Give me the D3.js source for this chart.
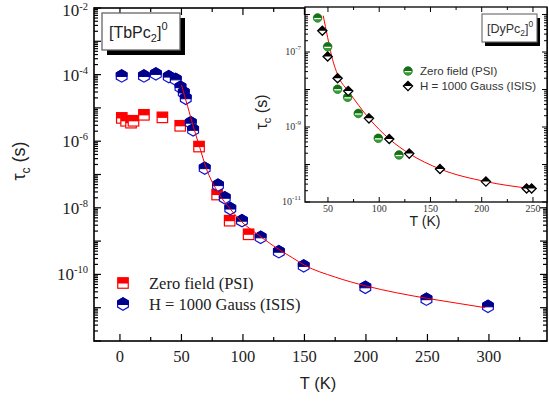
<!DOCTYPE html>
<html><head><meta charset="utf-8">
<script src="https://cdn.jsdelivr.net/npm/d3@7"></script>
<style>body{margin:0;background:#fff}svg{display:block}</style>
</head><body>
<svg id="c" width="549" height="401"></svg>
<script>
// ---------- Main plot data: [TbPc2]0 ----------
const tbPsiT   = [1.5, 5, 9, 11, 19.5, 34.5, 49, 64.3, 79, 89.2, 104.6];
const tbPsiTau = [5.0e-6, 4.1e-6, 3.6e-6, 4.1e-6, 6.2e-6, 5.2e-6, 2.9e-6, 6.9e-7, 2.5e-8, 4.1e-9, 1.6e-9];
const tbIsisT   = [1.4, 19.5, 29.2, 39.7, 45.4, 49.2, 51.9, 53.5, 57.6, 59.5, 68.9, 79.7, 85.2, 89.7, 99.2, 114.4, 129.2, 149.4, 199.5, 249.2, 299.2];
const tbIsisTau = [9.1e-5, 9.1e-5, 1.05e-4, 8.7e-5, 7.2e-5, 4.2e-5, 2.9e-5, 1.95e-5, 3.6e-6, 2.2e-6, 1.55e-7, 4.8e-8, 2.0e-8, 9.5e-9, 4.1e-9, 1.3e-9, 4.8e-10, 1.8e-10, 4.1e-11, 1.8e-11, 1.1e-11];
const tbFitT   = [50, 55, 60, 65, 70, 80, 90, 100, 110, 125, 140, 150, 175, 200, 225, 250, 275, 297];
const tbFitTau = [4.9e-5, 1.12e-5, 2.5e-6, 6.3e-7, 1.6e-7, 2.8e-8, 8.9e-9, 3.5e-9, 1.8e-9, 7.1e-10, 3.2e-10, 1.9e-10, 8.3e-11, 4.5e-11, 2.8e-11, 1.9e-11, 1.35e-11, 1.0e-11];
const mainXTicks = [0, 50, 100, 150, 200, 250, 300];
const mainYLabelExps = [-2, -4, -6, -8, -10];

// ---------- Inset data: [DyPc2]0 ----------
const dyPsiT   = [39.9, 49.7, 59.4, 69.2, 79.6, 99.1, 119.3];
const dyPsiTau = [8.1e-7, 1.38e-7, 1.02e-8, 6.2e-9, 2.3e-9, 5.0e-10, 1.8e-10];
const dyIsisT   = [44.5, 49.7, 59.4, 69.8, 90, 109.8, 129.3, 159.3, 204.1, 243.8, 248.7];
const dyIsisTau = [3.7e-7, 7.6e-8, 2.0e-8, 9.1e-9, 1.7e-9, 4.8e-10, 1.95e-10, 7.6e-11, 3.5e-11, 2.3e-11, 2.3e-11];
const dyFitT   = [45.4, 49.7, 53.6, 61.0, 69.8, 90.0, 109.8, 129.3, 159.3, 204.1, 247];
const dyFitTau = [9.3e-7, 2.45e-7, 7.8e-8, 2.0e-8, 9.1e-9, 1.7e-9, 4.8e-10, 1.95e-10, 7.6e-11, 3.5e-11, 2.3e-11];
const insetXTicks = [50, 100, 150, 200, 250];
const insetYLabelExps = [-7, -9, -11];

const legendMain = ["Zero field (PSI)", "H = 1000 Gauss (ISIS)"];
const legendInset = ["Zero field (PSI)", "H = 1000 Gauss (ISIS)"];

const svg = d3.select("#c");
const SERIF = "'Liberation Serif','Times New Roman',serif";
const SANS = "'Liberation Sans',Arial,sans-serif";

// ---------- Main scales ----------
const M = {l: 94, r: 547, t: 8, b: 341};
const x = d3.scaleLinear().domain([-21.1, 347.2]).range([M.l, M.r]);
const y = d3.scaleLog().domain([1e-12, 1e-2]).range([M.b, M.t]);

const gMain = svg.append("g");

function logTicks(lo, hi) {
  const out = [];
  for (let e = lo; e < hi; e++) {
    for (let k = 1; k <= 9; k++) out.push({v: k * Math.pow(10, e), major: k === 1});
  }
  out.push({v: Math.pow(10, hi), major: true});
  return out;
}

// main ticks
const mTicksY = logTicks(-12, -2);
mTicksY.forEach(t => {
  const yy = y(t.v); const len = t.major ? 7 : 4;
  gMain.append("line").attr("x1", M.l).attr("x2", M.l + len).attr("y1", yy).attr("y2", yy).attr("stroke", "#000").attr("stroke-width", 1.2);
  gMain.append("line").attr("x1", M.r).attr("x2", M.r - len).attr("y1", yy).attr("y2", yy).attr("stroke", "#000").attr("stroke-width", 1.2);
});
d3.range(0, 350, 25).forEach(v => {
  const xx = x(v); const len = (v % 50 === 0) ? 7 : 4;
  gMain.append("line").attr("x1", xx).attr("x2", xx).attr("y1", M.b).attr("y2", M.b - len).attr("stroke", "#000").attr("stroke-width", 1.2);
  gMain.append("line").attr("x1", xx).attr("x2", xx).attr("y1", M.t).attr("y2", M.t + len).attr("stroke", "#000").attr("stroke-width", 1.2);
});
gMain.append("rect").attr("x", M.l).attr("y", M.t).attr("width", M.r - M.l).attr("height", M.b - M.t)
  .attr("fill", "none").attr("stroke", "#000").attr("stroke-width", 1.6);

// main tick labels
mainXTicks.forEach(v => {
  gMain.append("text").attr("x", x(v)).attr("y", 362).attr("text-anchor", "middle")
    .attr("font-family", SERIF).attr("font-size", 16.5).attr("fill", "#222").text(v);
});
mainYLabelExps.forEach(e => {
  const top = e === -2;
  const t = gMain.append("text").attr("x", 88).attr("y", y(Math.pow(10, e)) + (top ? 8 : 6)).attr("text-anchor", "end")
    .attr("font-family", SERIF).attr("font-size", 17).attr("fill", "#222");
  t.append("tspan").text("10");
  t.append("tspan").attr("dy", top ? -6 : -7).attr("font-size", 10.5).text(String(e));
});

// axis titles
gMain.append("text").attr("x", 318).attr("y", 389).attr("text-anchor", "middle")
  .attr("font-family", SANS).attr("font-size", 16.5).attr("fill", "#222").text("T (K)");
{
  const t = gMain.append("text").attr("transform", "translate(25,161) rotate(-90)").attr("text-anchor", "middle")
    .attr("font-family", SANS).attr("font-size", 18).attr("fill", "#222");
  t.append("tspan").text("τ");
  t.append("tspan").attr("dy", 5).attr("font-size", 12).text("c");
  t.append("tspan").attr("dy", -5).text(" (s)");
}

// markers
function hexagon(g, cx, cy, r) {
  const pts = d3.range(6).map(k => {
    const a = -Math.PI / 2 + k * Math.PI / 3;
    return [cx + r * Math.cos(a), cy + r * Math.sin(a)];
  });
  g.append("polygon").attr("points", pts.map(p => p.join(",")).join(" "))
    .attr("fill", "#fff").attr("stroke", "#1010d0").attr("stroke-width", 1.2);
  const w = r * Math.cos(Math.PI / 6);
  const top = [[cx, cy - r], [cx + w, cy - r / 2], [cx + w, cy + 0.5], [cx - w, cy + 0.5], [cx - w, cy - r / 2]];
  g.append("polygon").attr("points", top.map(p => p.join(",")).join(" "))
    .attr("fill", "#00008b").attr("stroke", "#00008b").attr("stroke-width", 1);
}
function halfSquare(g, cx, cy, s) {
  g.append("rect").attr("x", cx - s / 2).attr("y", cy - s / 2).attr("width", s).attr("height", s)
    .attr("fill", "#fff").attr("stroke", "#ff0000").attr("stroke-width", 1.2);
  g.append("rect").attr("x", cx - s / 2).attr("y", cy - s / 2).attr("width", s).attr("height", s * 0.55)
    .attr("fill", "#ff0000");
}
function halfCircle(g, cx, cy, r) {
  g.append("circle").attr("cx", cx).attr("cy", cy).attr("r", r).attr("fill", "#33a033").attr("stroke", "#1f7f1f").attr("stroke-width", 0.8);
  g.append("path").attr("d", `M${cx - r},${cy} A${r},${r} 0 0 1 ${cx + r},${cy} Z`).attr("fill", "#157015");
  g.append("line").attr("x1", cx - r + 1).attr("x2", cx + r - 1).attr("y1", cy + 0.6).attr("y2", cy + 0.6).attr("stroke", "#fff").attr("stroke-width", 1.2);
}
function halfDiamond(g, cx, cy, r) {
  g.append("polygon").attr("points", `${cx},${cy - r} ${cx + r},${cy} ${cx},${cy + r} ${cx - r},${cy}`)
    .attr("fill", "#fff").attr("stroke", "#000").attr("stroke-width", 1.3);
  g.append("polygon").attr("points", `${cx},${cy - r} ${cx + r},${cy} ${cx - r},${cy}`).attr("fill", "#000");
}

const gPts = gMain.append("g");
tbPsiT.forEach((T, i) => halfSquare(gPts, x(T), y(tbPsiTau[i]), 10.5));
tbIsisT.forEach((T, i) => hexagon(gPts, x(T), y(tbIsisTau[i]), 6.2));

const line = d3.line().x(d => x(d[0])).y(d => y(d[1])).curve(d3.curveMonotoneX);
gMain.append("path").datum(tbFitT.map((T, i) => [T, tbFitTau[i]])).attr("d", line)
  .attr("fill", "none").attr("stroke", "#ff0000").attr("stroke-width", 1);

// main legend
halfSquare(gMain, 123, 283, 10.5);
hexagon(gMain, 123, 304, 6.2);
gMain.append("text").attr("x", 149).attr("y", 289).attr("font-family", SERIF).attr("font-size", 16.5).attr("fill", "#222").text(legendMain[0]);
gMain.append("text").attr("x", 149).attr("y", 310).attr("font-family", SERIF).attr("font-size", 16.5).attr("fill", "#222").text(legendMain[1]);

// main label box
gMain.append("rect").attr("x", 107).attr("y", 18).attr("width", 78).attr("height", 37).attr("fill", "#000");
gMain.append("rect").attr("x", 102).attr("y", 13).attr("width", 78).attr("height", 37).attr("fill", "#fff").attr("stroke", "#666").attr("stroke-width", 1.3);
{
  const t = gMain.append("text").attr("x", 109).attr("y", 38).attr("font-family", SANS).attr("font-size", 16).attr("fill", "#222");
  t.append("tspan").text("[TbPc");
  t.append("tspan").attr("dy", 4).attr("font-size", 11).text("2");
  t.append("tspan").attr("dy", -4).text("]");
  t.append("tspan").attr("dy", -8).attr("font-size", 11).text("0");
}

// ---------- Inset ----------
const I = {l: 305, r: 547, t: 7, b: 202};
const xi = d3.scaleLinear().domain([27.6, 263.7]).range([I.l, I.r]);
const yi = d3.scaleLog().domain([1e-11, Math.pow(10, -5.8)]).range([I.b, I.t]);
const gI = svg.append("g");
gI.append("rect").attr("x", I.l).attr("y", I.t).attr("width", I.r - I.l).attr("height", I.b - I.t).attr("fill", "#fff");

logTicks(-11, -6).forEach(t => {
  const yy = yi(t.v); if (yy < I.t) return;
  const len = t.major ? 5 : 3;
  gI.append("line").attr("x1", I.l).attr("x2", I.l + len).attr("y1", yy).attr("y2", yy).attr("stroke", "#000").attr("stroke-width", 1);
  gI.append("line").attr("x1", I.r).attr("x2", I.r - len).attr("y1", yy).attr("y2", yy).attr("stroke", "#000").attr("stroke-width", 1);
});
[2e-6].forEach(v => {
  const yy = yi(v); if (yy < I.t) return;
  gI.append("line").attr("x1", I.l).attr("x2", I.l + 3).attr("y1", yy).attr("y2", yy).attr("stroke", "#000");
});
d3.range(50, 275, 25).forEach(v => {
  const xx = xi(v); const len = (v % 50 === 0) ? 5 : 3;
  gI.append("line").attr("x1", xx).attr("x2", xx).attr("y1", I.b).attr("y2", I.b - len).attr("stroke", "#000").attr("stroke-width", 1);
  gI.append("line").attr("x1", xx).attr("x2", xx).attr("y1", I.t).attr("y2", I.t + len).attr("stroke", "#000").attr("stroke-width", 1);
});
gI.append("rect").attr("x", I.l).attr("y", I.t).attr("width", I.r - I.l).attr("height", I.b - I.t)
  .attr("fill", "none").attr("stroke", "#000").attr("stroke-width", 1.3);

insetXTicks.forEach(v => {
  gI.append("text").attr("x", xi(v)).attr("y", 212).attr("text-anchor", "middle")
    .attr("font-family", SERIF).attr("font-size", 10).attr("fill", "#333").text(v);
});
insetYLabelExps.forEach(e => {
  const t = gI.append("text").attr("x", 301).attr("y", yi(Math.pow(10, e)) + 3).attr("text-anchor", "end")
    .attr("font-family", SERIF).attr("font-size", 10).attr("fill", "#333");
  t.append("tspan").text("10");
  t.append("tspan").attr("dy", -5).attr("font-size", 7).text(String(e));
});
gI.append("text").attr("x", 425).attr("y", 226).attr("text-anchor", "middle")
  .attr("font-family", SANS).attr("font-size", 14).attr("fill", "#222").text("T (K)");
{
  const t = gI.append("text").attr("transform", "translate(267,112) rotate(-90)").attr("text-anchor", "middle")
    .attr("font-family", SANS).attr("font-size", 16).attr("fill", "#222");
  t.append("tspan").text("τ");
  t.append("tspan").attr("dy", 4).attr("font-size", 11).text("c");
  t.append("tspan").attr("dy", -4).text(" (s)");
}

const lineI = d3.line().x(d => xi(d[0])).y(d => yi(d[1])).curve(d3.curveMonotoneX);
gI.append("path").datum(dyFitT.map((T, i) => [T, dyFitTau[i]])).attr("d", lineI)
  .attr("fill", "none").attr("stroke", "#ff0000").attr("stroke-width", 1);
dyPsiT.forEach((T, i) => halfCircle(gI, xi(T), yi(dyPsiTau[i]), 4.3));
dyIsisT.forEach((T, i) => halfDiamond(gI, xi(T), yi(dyIsisTau[i]), 4.6));

// inset legend
halfCircle(gI, 408, 71, 4.3);
halfDiamond(gI, 408, 86, 4.6);
gI.append("text").attr("x", 420).attr("y", 75).attr("font-family", SANS).attr("font-size", 11.5).attr("fill", "#333").text(legendInset[0]);
gI.append("text").attr("x", 420).attr("y", 90).attr("font-family", SANS).attr("font-size", 11.5).attr("fill", "#333").text(legendInset[1]);

// inset label box
gI.append("rect").attr("x", 485).attr("y", 18).attr("width", 55).attr("height", 28).attr("fill", "#000");
gI.append("rect").attr("x", 482).attr("y", 14).attr("width", 55).attr("height", 28).attr("fill", "#fff").attr("stroke", "#666").attr("stroke-width", 1.1);
{
  const t = gI.append("text").attr("x", 487).attr("y", 33).attr("font-family", SANS).attr("font-size", 12.5).attr("fill", "#333");
  t.append("tspan").text("[DyPc");
  t.append("tspan").attr("dy", 3).attr("font-size", 8.5).text("2");
  t.append("tspan").attr("dy", -3).text("]");
  t.append("tspan").attr("dy", -6).attr("font-size", 8.5).text("0");
}
</script>
</body></html>
